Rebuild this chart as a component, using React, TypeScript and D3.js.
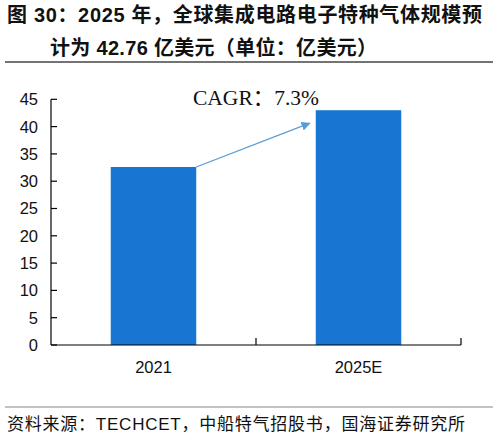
import React from "react";
import * as d3 from "d3";

// ── Data ──────────────────────────────────────────────────────
const CATEGORIES = ["2021", "2025E"];
const VALUES = [32.6, 43.0];
const Y_TICKS = [0, 5, 10, 15, 20, 25, 30, 35, 40, 45];

const TITLE_1 = "图 30：2025 年，全球集成电路电子特种气体规模预";
const TITLE_2 = "计为 42.76 亿美元（单位：亿美元）";
const SOURCE = "资料来源：TECHCET，中船特气招股书，国海证券研究所";
const CAGR = "CAGR：7.3%";

// ── Geometry ──────────────────────────────────────────────────
const W = 498;
const H = 437;
const PLOT = { left: 51, right: 461, top: 99.3, bottom: 345 };

const BAR = "#1876d2";
const ARROW = "#5b9bd5";
const SANS = "'Liberation Sans', Arial, 'Noto Sans CJK SC', sans-serif";
const SERIF = "'Liberation Serif', 'Times New Roman', 'Noto Sans CJK SC', serif";

export default function App() {
  const x = d3
    .scaleBand<string>()
    .domain(CATEGORIES)
    .range([PLOT.left, PLOT.right])
    .paddingInner(0.583)
    .paddingOuter(0.2915);

  const y = d3.scaleLinear().domain([0, 45]).range([PLOT.bottom, PLOT.top]);

  // arrow from top-right corner of first bar toward second bar
  const ax1 = (x(CATEGORIES[0]) ?? 0) + x.bandwidth();
  const ay1 = y(VALUES[0]);
  const ax2 = (x(CATEGORIES[1]) ?? 0) - 6;
  const ay2 = y(VALUES[1]) + 13;

  // x-axis tick positions: band boundaries
  const step = x.step();
  const xTicks = [PLOT.left + step, PLOT.left + 2 * step];

  return (
    <svg
      width={W}
      height={H}
      style={{ position: "absolute", left: 0, top: 0, background: "#fff" }}
    >
      <defs>
        <marker
          id="arrowhead"
          viewBox="0 0 10 10"
          refX="9"
          refY="5"
          markerWidth="7"
          markerHeight="7"
          orient="auto"
        >
          <path d="M0,0 L10,5 L0,10 Z" fill={ARROW} />
        </marker>
      </defs>

      {/* Title */}
      <g fontFamily={SANS} fontWeight={700} fontSize={20} fill="#111">
        <text x={7} y={22} textLength={475} lengthAdjust="spacing">
          {TITLE_1}
        </text>
        <text x={50} y={55} textLength={327} lengthAdjust="spacing">
          {TITLE_2}
        </text>
      </g>
      <line x1={5} x2={493} y1={62} y2={62} stroke="#444" strokeWidth={1.5} />

      {/* Bars */}
      {CATEGORIES.map((c, i) => (
        <rect
          key={c}
          x={x(c)}
          y={y(VALUES[i])}
          width={x.bandwidth()}
          height={y(0) - y(VALUES[i])}
          fill={BAR}
        />
      ))}

      {/* Y axis */}
      <line x1={PLOT.left} x2={PLOT.left} y1={PLOT.top} y2={PLOT.bottom} stroke="#000" strokeWidth={1.2} />
      {Y_TICKS.map((t) => (
        <g key={t}>
          <line x1={PLOT.left} x2={PLOT.left + 6} y1={y(t)} y2={y(t)} stroke="#000" strokeWidth={1.2} />
          <text
            x={38}
            y={y(t)}
            dy="0.36em"
            textAnchor="end"
            fontFamily={SANS}
            fontSize={16.5}
            fill="#111"
          >
            {t}
          </text>
        </g>
      ))}

      {/* X axis */}
      <line x1={PLOT.left} x2={PLOT.right} y1={PLOT.bottom} y2={PLOT.bottom} stroke="#000" strokeWidth={1.2} />
      {xTicks.map((t) => (
        <line key={t} x1={t} x2={t} y1={PLOT.bottom} y2={PLOT.bottom - 7} stroke="#000" strokeWidth={1.2} />
      ))}
      {CATEGORIES.map((c) => (
        <text
          key={c}
          x={(x(c) ?? 0) + x.bandwidth() / 2}
          y={373}
          textAnchor="middle"
          fontFamily={SANS}
          fontSize={16.5}
          fill="#111"
        >
          {c}
        </text>
      ))}

      {/* CAGR annotation */}
      <line
        x1={ax1}
        y1={ay1}
        x2={ax2}
        y2={ay2}
        stroke={ARROW}
        strokeWidth={1.3}
        markerEnd="url(#arrowhead)"
      />
      <text x={193} y={105} fontFamily={SERIF} fontSize={21.5} fill="#111">
        {CAGR}
      </text>

      {/* Source */}
      <line x1={5} x2={493} y1={407} y2={407} stroke="#888" strokeWidth={1.2} />
      <text
        x={7}
        y={430}
        fontFamily={SANS}
        fontSize={17}
        fill="#111"
        textLength={458}
        lengthAdjust="spacing"
      >
        {SOURCE}
      </text>
    </svg>
  );
}
